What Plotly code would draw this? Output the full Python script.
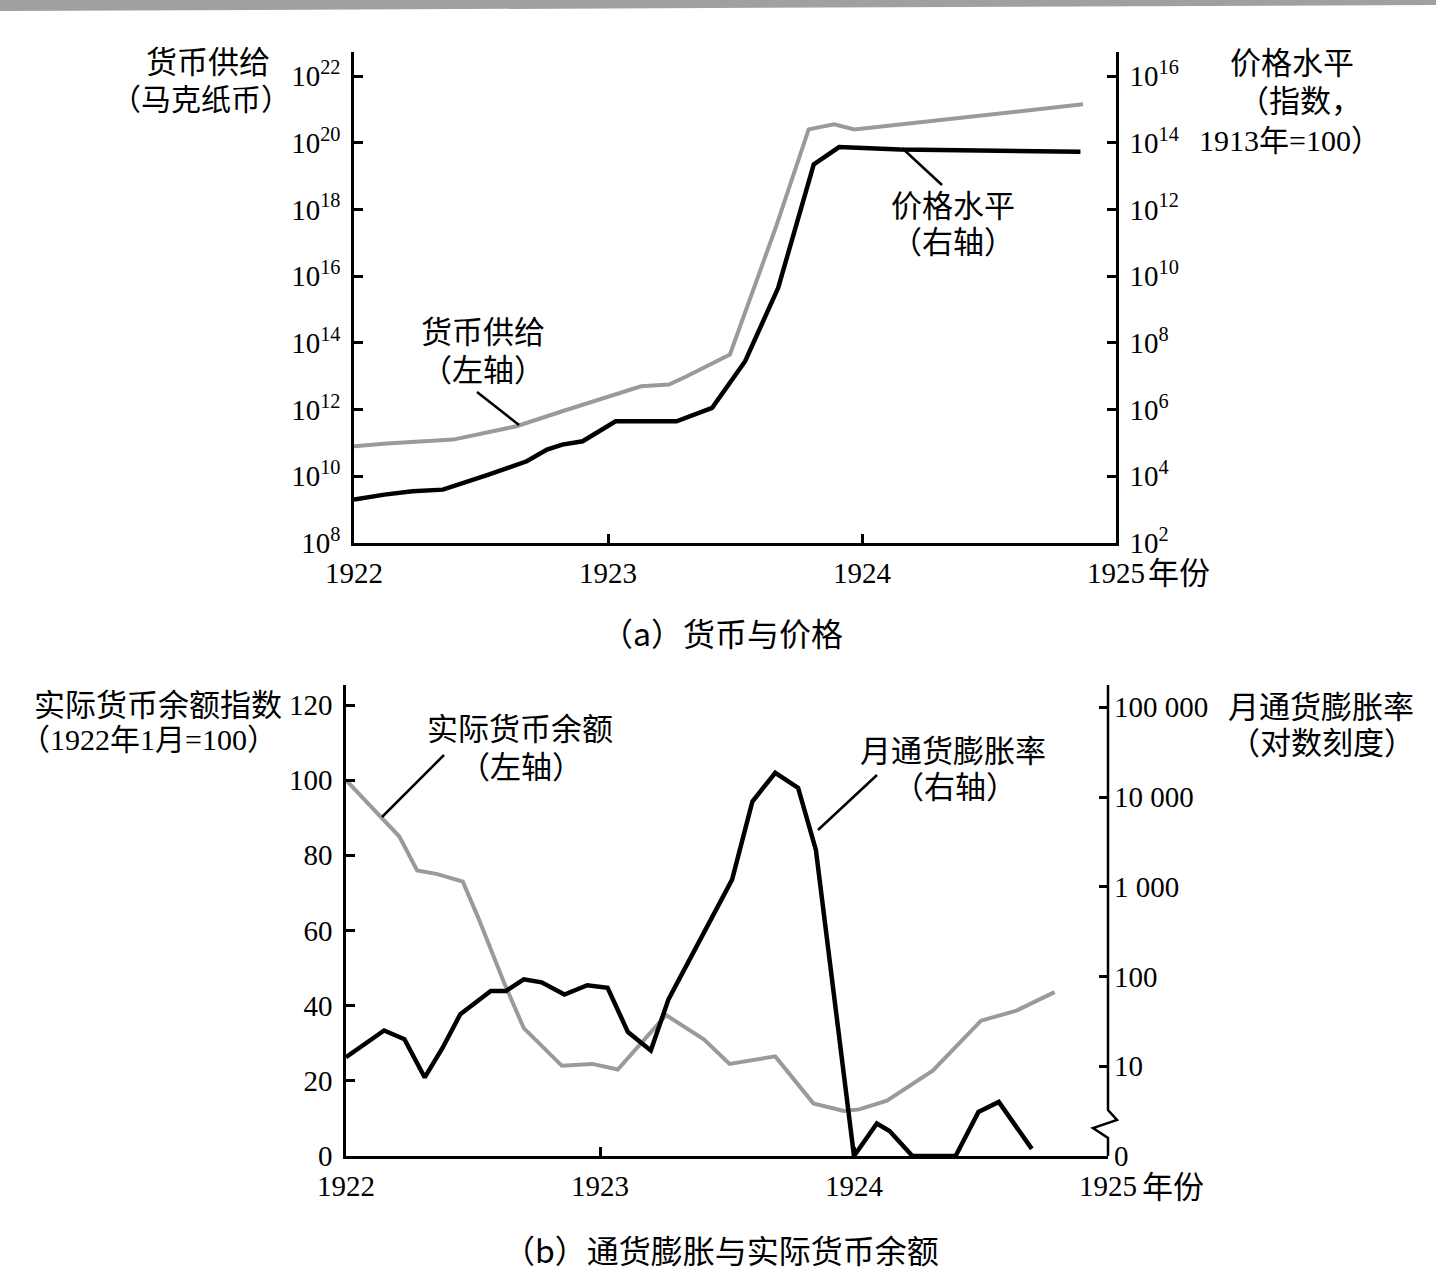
import plotly.graph_objects as go

W, H = 1436, 1288

# ---------------- data: panel (a) ----------------
money_years = [1922.0, 1922.13, 1922.39, 1922.64, 1922.82, 1923.02, 1923.13, 1923.24,
               1923.31, 1923.48, 1923.66, 1923.79, 1923.89, 1923.97, 1924.87]
money_log10 = [10.9, 10.98, 11.1, 11.5, 11.95, 12.45, 12.7, 12.75,
               13.0, 13.65, 17.45, 20.4, 20.55, 20.4, 21.15]

price_years = [1922.0, 1922.12, 1922.23, 1922.35, 1922.53, 1922.68, 1922.76, 1922.82,
               1922.9, 1923.03, 1923.27, 1923.41, 1923.54, 1923.67, 1923.81, 1923.91,
               1924.15, 1924.86]
price_log10 = [3.3, 3.45, 3.55, 3.6, 4.05, 4.45, 4.8, 4.95,
               5.05, 5.65, 5.65, 6.05, 7.45, 9.65, 13.35, 13.87,
               13.8, 13.73]

# ---------------- data: panel (b) ----------------
real_years = [1922.0, 1922.14, 1922.21, 1922.28, 1922.36, 1922.46, 1922.52, 1922.62,
              1922.70, 1922.85, 1922.97, 1923.07, 1923.16, 1923.26, 1923.41, 1923.51,
              1923.69, 1923.84, 1923.96, 1924.02, 1924.13, 1924.31, 1924.50, 1924.64,
              1924.79]
real_balance = [100, 90, 85, 76, 75, 73, 63.5, 46.5,
                34, 24, 24.5, 23, 30, 37.5, 31, 24.5,
                26.5, 14, 12, 12.4, 14.7, 22.7, 36, 38.7,
                43.6]

infl_years = [1922.0, 1922.15, 1922.23, 1922.31, 1922.38, 1922.45, 1922.57, 1922.63,
              1922.70, 1922.77, 1922.86, 1922.95, 1923.03, 1923.11, 1923.20, 1923.27,
              1923.52, 1923.60, 1923.69, 1923.78, 1923.85, 1924.0, 1924.09, 1924.14,
              1924.23, 1924.40, 1924.49, 1924.57, 1924.70]
infl_rate = [12.6, 25, 20, 7.5, 16, 38, 69, 69,
             93, 86, 63, 80, 75, 24, 15, 56,
             1200, 8900, 18600, 12600, 2570, 0, 2.3, 1.9,
             0, 0, 3.1, 4.0, 1.2]

year_ticks = [1922, 1923, 1924, 1925]
year_labels = ["1922", "1923", "1924", "1925"]
left_a_ticks = [8, 10, 12, 14, 16, 18, 20, 22]
right_a_ticks = [2, 4, 6, 8, 10, 12, 14, 16]
left_b_ticks = [0, 20, 40, 60, 80, 100, 120]
right_b_ticks = [1, 10, 100, 1000, 10000, 100000]
right_b_labels = ["0", "10", "100", "1 000", "10 000", "100 000"]

BREAK_FLOOR = 1.0  # value drawn at the broken bottom of the log axis ("0")

GRAY = "#9a9a9a"
FONT = "Liberation Serif, Noto Sans CJK SC"
CAPFONT = "Noto Sans CJK SC"


def fx(px):
    return px / W


def fy(py):
    return 1 - py / H


def path(pts, close=False):
    s = "M " + " L ".join(f"{fx(x):.5f},{fy(y):.5f}" for x, y in pts)
    return s + (" Z" if close else "")


fig = go.Figure()

fig.add_trace(go.Scatter(x=money_years, y=[10.0 ** v for v in money_log10],
                         mode="lines", line=dict(color=GRAY, width=4),
                         xaxis="x", yaxis="y", showlegend=False))
fig.add_trace(go.Scatter(x=price_years, y=[10.0 ** v for v in price_log10],
                         mode="lines", line=dict(color="black", width=4.5),
                         xaxis="x", yaxis="y2", showlegend=False))
fig.add_trace(go.Scatter(x=real_years, y=real_balance,
                         mode="lines", line=dict(color=GRAY, width=4),
                         xaxis="x2", yaxis="y3", showlegend=False))
fig.add_trace(go.Scatter(x=infl_years, y=[max(v, BREAK_FLOOR) for v in infl_rate],
                         mode="lines", line=dict(color="black", width=4.5),
                         xaxis="x2", yaxis="y4", showlegend=False))

tickfont = dict(family=FONT, size=29, color="black")
common = dict(showgrid=False, zeroline=False, showline=True, linecolor="black",
              linewidth=2.5, ticks="inside", ticklen=9, tickwidth=2.5,
              tickcolor="black", tickfont=tickfont, automargin=False)

# panel (a) geometry
a_left, a_right, a_top, a_bot = 354, 1116, 52, 543
a_dec = (543 - 76) / 14.0
a_span = (a_bot - a_top) / a_dec
# panel (b) geometry
b_left, b_right, b_top, b_bot = 346, 1108, 685, 1156
b_lin_top = 120 * (b_bot - b_top) / (b_bot - 705)
b_dec = (1066 - 707) / 4.0
b_log_top = (b_bot - b_top) / b_dec

fig.update_layout(
    width=W, height=H, margin=dict(l=0, r=0, t=0, b=0, pad=0, autoexpand=False),
    paper_bgcolor="white", plot_bgcolor="rgba(0,0,0,0)",
    showlegend=False,
    xaxis=dict(domain=[fx(a_left), fx(a_right)], range=[1922, 1925],
               tickvals=year_ticks, ticktext=year_labels, anchor="y",
               ticklabelstandoff=2, **common),
    yaxis=dict(domain=[fy(a_bot), fy(a_top)], type="log", range=[8, 8 + a_span],
               tickvals=[10.0 ** v for v in left_a_ticks],
               ticktext=[f"10<sup>{v}</sup>" for v in left_a_ticks],
               anchor="x", ticklabelstandoff=5, **common),
    yaxis2=dict(type="log", range=[2, 2 + a_span], overlaying="y", side="right",
                anchor="x",
                tickvals=[10.0 ** v for v in right_a_ticks],
                ticktext=[f"10<sup>{v}</sup>" for v in right_a_ticks],
                ticklabelstandoff=5, **common),
    xaxis2=dict(domain=[fx(b_left), fx(b_right)], range=[1922, 1925],
                tickvals=year_ticks, ticktext=year_labels, anchor="y3",
                ticklabelstandoff=2, **common),
    yaxis3=dict(domain=[fy(b_bot), fy(b_top)], range=[0, b_lin_top],
                tickvals=left_b_ticks, ticktext=[str(v) for v in left_b_ticks],
                anchor="x2", ticklabelstandoff=5, **common),
    yaxis4=dict(type="log", range=[0, b_log_top], overlaying="y3", side="right",
                anchor="x2", tickvals=right_b_ticks, ticktext=right_b_labels,
                ticklabelstandoff=5,
                **{**common, "showline": False}),
)

shapes = []
# scanned dark strip at top
shapes.append(dict(type="path", xref="paper", yref="paper",
                   path=path([(0, 0), (W, 0), (W, 5), (0, 11)], close=True),
                   fillcolor="#a0a0a0", line=dict(width=0)))
# broken right axis of panel (b)
shapes.append(dict(type="path", xref="paper", yref="paper",
                   path=path([(b_right, b_top), (b_right, 1110), (1117, 1120),
                              (1093, 1128), (b_right, 1138), (b_right, b_bot)]),
                   line=dict(color="black", width=2.5)))
# leader lines
for (x0, y0, x1, y1) in [(902, 148, 942, 185), (477, 392, 519, 425),
                         (444, 755, 382, 817), (877, 775, 818, 830)]:
    shapes.append(dict(type="line", xref="paper", yref="paper",
                       x0=fx(x0), y0=fy(y0), x1=fx(x1), y1=fy(y1),
                       line=dict(color="black", width=2.5)))
fig.update_layout(shapes=shapes)

annotations = []


def note(text, x, y, size=31, xanchor="center", family=FONT):
    annotations.append(dict(text=text, x=fx(x), y=fy(y), xref="paper", yref="paper",
                            xanchor=xanchor, yanchor="middle", showarrow=False,
                            font=dict(family=family, size=size, color="black")))


# panel (a) texts
note("货币供给", 208, 62)
note("（马克纸币）", 201, 100, size=30)
note("价格水平", 1292, 64)
note("（指数，", 1300, 102)
note("1913年=100）", 1290, 140, size=30)
note("价格水平", 953, 207)
note("（右轴）", 953, 243)
note("货币供给", 483, 333)
note("（左轴）", 483, 370)
note("年份", 1146, 573, xanchor="left")
note("（a）货币与价格", 722, 632, size=32, family=CAPFONT)

# panel (b) texts
note("实际货币余额指数", 32, 705, xanchor="left")
note("（1922年1月=100）", 18, 739, xanchor="left", size=30)
note("月通货膨胀率", 1321, 707)
note("（对数刻度）", 1322, 743)
note("实际货币余额", 520, 729)
note("（左轴）", 521, 767)
note("月通货膨胀率", 953, 751)
note("（右轴）", 955, 787)
note("年份", 1140, 1187, xanchor="left")
note("（b）通货膨胀与实际货币余额", 721, 1249, size=32, family=CAPFONT)

fig.update_layout(annotations=annotations)

fig.write_html("out.html")
